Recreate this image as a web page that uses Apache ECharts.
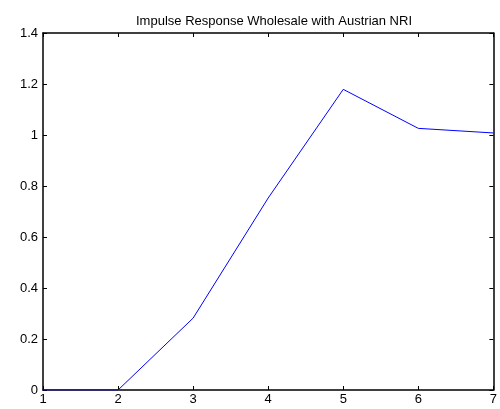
<!DOCTYPE html>
<html><head><meta charset="utf-8">
<script src="https://cdn.jsdelivr.net/npm/echarts@6/dist/echarts.min.js"></script>
<style>html,body{margin:0;padding:0;background:#fff}#c{width:500px;height:409px}</style>
</head><body><div id="c"></div>
<script>
var xValues = [1, 2, 3, 4, 5, 6, 7];
var responseValues = [0, 0, 0.282, 0.753, 1.179, 1.026, 1.008];
var titleText = 'Impulse Response Wholesale with Austrian NRI';

var chart = echarts.init(document.getElementById('c'));
var font = 'Liberation Sans, Arial, Helvetica, sans-serif';
var axisLine = {show: true, onZero: false, lineStyle: {color: '#000', width: 1.5}};
var tick = {show: true, inside: true, length: 4, lineStyle: {color: '#000', width: 1}};
var data = xValues.map(function (x, i) { return [x, responseValues[i]]; });
chart.setOption({
  animation: false,
  title: {text: titleText, left: 269, top: 10, textAlign: 'center',
    textStyle: {fontFamily: font, fontSize: 13, fontWeight: 'normal', color: '#000'}},
  grid: {left: 43, right: 5, top: 33, bottom: 19, containLabel: false},
  xAxis: [
    {type: 'value', min: 1, max: 7, interval: 1, axisLine: axisLine, axisTick: tick,
     splitLine: {show: false},
     axisLabel: {fontFamily: font, fontSize: 13, color: '#000', margin: 3, showMinLabel: true, showMaxLabel: true}},
    {type: 'value', position: 'top', min: 1, max: 7, interval: 1, axisLine: axisLine, axisTick: tick,
     splitLine: {show: false}, axisLabel: {show: false}}
  ],
  yAxis: [
    {type: 'value', min: 0, max: 1.4, interval: 0.2, axisLine: axisLine, axisTick: tick,
     splitLine: {show: false},
     axisLabel: {fontFamily: font, fontSize: 13, color: '#000', margin: 5,
       formatter: function (v) { return String(Math.round(v * 10) / 10); }}},
    {type: 'value', position: 'right', min: 0, max: 1.4, interval: 0.2, axisLine: axisLine, axisTick: tick,
     splitLine: {show: false}, axisLabel: {show: false}}
  ],
  series: [{type: 'line', data: data, showSymbol: false, symbol: 'none',
    lineStyle: {color: '#0000ff', width: 1}, xAxisIndex: 0, yAxisIndex: 0}]
});
</script></body></html>
